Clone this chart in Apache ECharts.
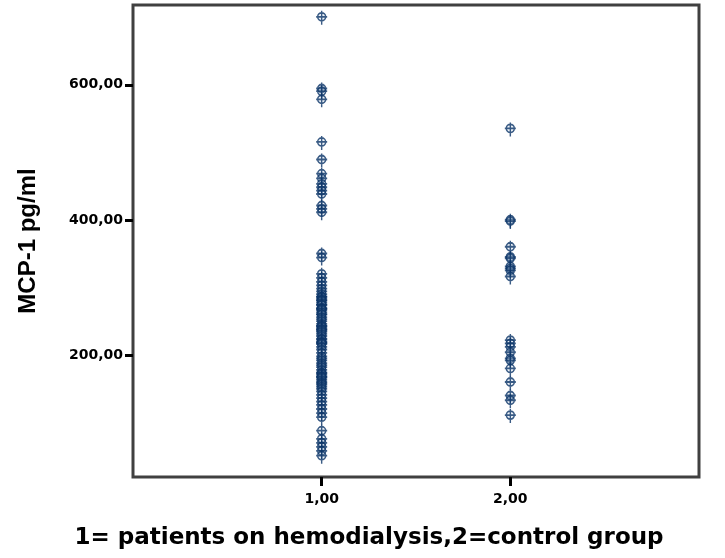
<!DOCTYPE html>
<html>
<head>
<meta charset="utf-8">
<script src="https://cdn.jsdelivr.net/npm/echarts@6/dist/echarts.min.js"></script>
<style>html,body{margin:0;padding:0;background:#fff;}#c{width:725px;height:558px;}</style>
</head>
<body>
<div id="c"></div>
<script>
// Categories (group codes) and tick labels
const groupCodes = [1, 2];
const xTickValues = [1, 2];
const yTickValues = [200, 400, 600];

// MCP-1 values, group 1 = patients on hemodialysis
const group1Values = [
  702, 596, 592, 580, 517, 491, 470, 463, 455, 450, 445, 440, 423, 418, 413,
  352, 346,
  322, 316, 310, 305, 300, 296, 292, 288, 288, 285, 283, 282, 279, 276, 276, 272, 270, 270,
  268, 265, 262, 262, 258, 255, 252, 248, 245, 245, 243, 240, 240, 238, 236, 233, 230,
  226, 225, 222, 220, 220, 218, 214, 210, 205, 200, 197, 194, 190, 187, 184, 180,
  176, 175, 173, 170, 170, 168, 165, 162, 160, 158, 155, 152, 148, 143, 138, 133,
  128, 122, 116, 110,
  90, 78, 72, 66, 60, 53
];
// group 2 = control group
const group2Values = [
  537, 402, 400, 362, 347, 345, 333, 330, 327, 318,
  224, 219, 214, 206, 197, 194, 182, 162, 142, 135, 113
];

const fmt = v => Number(v).toFixed(2).replace('.', ',');
const markerPath = 'path://M1.5 6 A4 4 0 1 0 9.5 6 A4 4 0 1 0 1.5 6 Z M5.5 0 L5.5 14 M0 6 L11 6';

const pts = [];
group1Values.forEach(v => pts.push([groupCodes[0], v]));
group2Values.forEach(v => pts.push([groupCodes[1], v]));

const chart = echarts.init(document.getElementById('c'), null, {renderer: 'canvas'});
chart.setOption({
  animation: false,
  backgroundColor: '#ffffff',
  grid: {
    left: 133, top: 5, width: 566, height: 472,
    show: true, borderColor: '#404040', borderWidth: 3, backgroundColor: 'transparent'
  },
  xAxis: {
    type: 'value', min: 0, max: 3, interval: 1,
    name: '1= patients on hemodialysis,2=control group',
    nameLocation: 'middle', nameGap: 50,
    nameTextStyle: {fontFamily: 'DejaVu Sans', fontWeight: 'bold', fontSize: 23, color: '#000',
      padding: [0, 94, 0, 0]},
    splitLine: {show: false},
    axisLine: {show: false},
    axisTick: {show: true, customValues: xTickValues, length: 9, lineStyle: {color: '#000', width: 3}},
    axisLabel: {customValues: xTickValues, formatter: fmt, margin: 15,
      fontFamily: 'DejaVu Sans', fontWeight: 'bold', fontSize: 14, color: '#000'}
  },
  yAxis: {
    type: 'value', min: 20, max: 718,
    name: 'MCP-1 pg/ml',
    nameLocation: 'middle', nameGap: 93,
    nameTextStyle: {fontFamily: 'Liberation Sans', fontWeight: 'bold', fontSize: 24, color: '#000'},
    splitLine: {show: false},
    axisLine: {show: false},
    axisTick: {show: true, customValues: yTickValues, length: 8, lineStyle: {color: '#000', width: 3}},
    axisLabel: {customValues: yTickValues, formatter: fmt, margin: 10,
      fontFamily: 'DejaVu Sans', fontWeight: 'bold', fontSize: 14, color: '#000'}
  },
  series: [{
    type: 'scatter',
    data: pts,
    symbol: markerPath,
    symbolSize: [11, 14],
    symbolOffset: [0, 2],
    itemStyle: {color: 'rgba(190,210,230,0.3)', borderColor: '#0a3366', borderWidth: 1.6},
    silent: true
  }]
});
</script>
</body>
</html>
